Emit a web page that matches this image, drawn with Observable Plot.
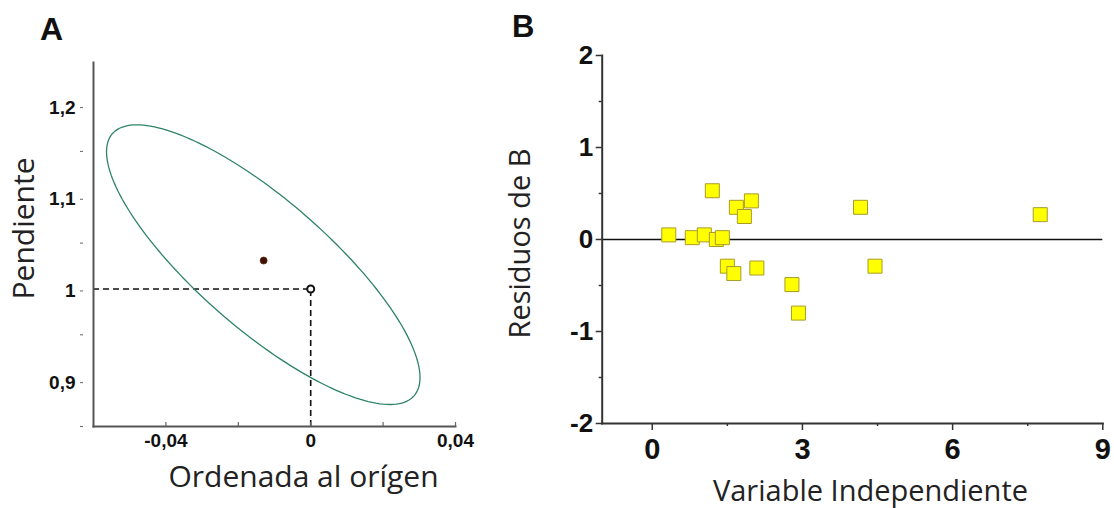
<!DOCTYPE html>
<html><head><meta charset="utf-8">
<script src="https://cdn.jsdelivr.net/npm/d3@7"></script>
<script src="https://cdn.jsdelivr.net/npm/@observablehq/plot@0.6"></script>
<style>
html,body{margin:0;padding:0;background:#fff}
body{width:1114px;height:508px;overflow:hidden;position:relative;font-family:"Liberation Sans",Arial,sans-serif}
.panel{position:absolute;top:0}
.tag{position:absolute;font-weight:bold;font-family:"Liberation Sans",Arial,sans-serif;line-height:1;color:#111;z-index:2}
</style></head><body>
<div id="panelA" class="panel" style="left:0"></div>
<div id="panelB" class="panel" style="left:490px"></div>
<div class="tag" style="left:40px;top:13px;font-size:32px">A</div>
<div class="tag" style="left:512px;top:11px;font-size:31px">B</div>
<script>
// ---------- Panel A data ----------
const aXLabel = "Ordenada al orígen";
const aYLabel = "Pendiente";
const aXDomain = [-0.06, 0.04];
const aYDomain = [0.85, 1.247];
const aXTicks = [-0.04, 0, 0.04];
const aXMinorTicks = [-0.02, 0.02];
const aYTicks = [0.9, 1.0, 1.1, 1.2];
const aYMinorTicks = [0.85, 0.95, 1.05, 1.15];
// confidence ellipse: centre, half-extents and correlation
const ellipseCenter = [-0.0131, 1.0265];
const ellipseHalfWidth = 0.0433;   // intercept half-range
const ellipseHalfHeight = 0.1525;  // slope half-range
const ellipseCorrelation = -0.807;
const estimatePoint = [[-0.013, 1.031]];   // fitted (intercept, slope)
const referencePoint = [[0, 1]];           // ideal (intercept, slope)

// ---------- Panel B data ----------
const bXLabel = "Variable Independiente";
const bYLabel = "Residuos de B";
const bXDomain = [-1, 9];
const bYDomain = [-2, 2];
const bXTicks = [0, 3, 6, 9];
const bXMinorTicks = [1.5, 4.5, 7.5];
const bYTicks = [-2, -1, 0, 1, 2];
const bYMinorTicks = [-1.5, -0.5, 0.5, 1.5];
const residX = [0.33, 0.80, 1.04, 1.28, 1.40, 1.20, 1.68, 1.98, 1.84, 1.50, 1.63, 2.09, 2.79, 2.92, 4.16, 4.45, 7.75];
const residY = [0.05, 0.02, 0.05, 0.00, 0.02, 0.53, 0.35, 0.42, 0.25, -0.29, -0.37, -0.31, -0.49, -0.80, 0.35, -0.29, 0.27];

const comma = d => String(d).replace(".", ",");

// ellipse outline from its parameters
const phi = Math.acos(ellipseCorrelation);
const ellipse = d3.range(0, 361, 2).map(deg => {
  const t = deg * Math.PI / 180;
  return {x: ellipseCenter[0] + ellipseHalfWidth * Math.cos(t),
          y: ellipseCenter[1] + ellipseHalfHeight * Math.cos(t - phi)};
});

const tickFont = {fontFamily: "Liberation Sans, Arial, sans-serif", fontWeight: "bold"};

const plotA = Plot.plot({
  width: 480, height: 508,
  marginLeft: 93, marginRight: 25, marginTop: 62, marginBottom: 82,
  style: {fontFamily: "Liberation Sans, Arial, sans-serif", color: "#111", background: "#fff"},
  x: {domain: aXDomain, label: null},
  y: {domain: aYDomain, label: null},
  marks: [
    Plot.ruleY(referencePoint, {y: d => d[1], x1: aXDomain[0], x2: d => d[0], stroke: "#111", strokeWidth: 1.6, strokeDasharray: "6,4"}),
    Plot.ruleX(referencePoint, {x: d => d[0], y1: aYDomain[0], y2: d => d[1], stroke: "#111", strokeWidth: 1.6, strokeDasharray: "6,4"}),
    Plot.line(ellipse, {x: "x", y: "y", stroke: "#2e8466", strokeWidth: 1.3}),
    Plot.dot(estimatePoint, {x: d => d[0], y: d => d[1], r: 3.5, fill: "#3a1206", stroke: "#6a2a10", strokeWidth: 0.8}),
    Plot.dot(referencePoint, {x: d => d[0], y: d => d[1], r: 3.5, fill: "#fff", stroke: "#111", strokeWidth: 2}),
    Plot.frame({anchor: "left", stroke: "#555", strokeWidth: 2}),
    Plot.frame({anchor: "bottom", stroke: "#555", strokeWidth: 2}),
    Plot.axisY(aYTicks, {anchor: "left", label: null, dx: -10, tickSize: 3, tickPadding: 5, tickFormat: comma, fontSize: 19, dy: 2, stroke: "#666", ...tickFont}),
    Plot.axisY(aYMinorTicks, {anchor: "left", label: null, dx: -10, tickSize: 3, tickFormat: () => "", stroke: "#666"}),
    Plot.axisX(aXTicks, {anchor: "bottom", label: null, tickSize: 0, tickPadding: 7, tickFormat: comma, fontSize: 19, ...tickFont}),
    Plot.ruleX(aXTicks.concat(aXMinorTicks), {x: d => d, insetTop: 360, stroke: "#666", strokeWidth: 1.2}),
    Plot.text([aXLabel], {frameAnchor: "bottom", textAnchor: "middle", dx: 29, dy: 51, fontSize: 30, fontFamily: "Open Sans", fill: "#222", lineAnchor: "middle"}),
    Plot.text([aYLabel], {frameAnchor: "left", textAnchor: "middle", dx: -69, dy: -16, rotate: -90, fontSize: 30, fontFamily: "Open Sans", fill: "#222", lineAnchor: "middle"})
  ]
});
document.getElementById("panelA").append(plotA);

const bData = residX.map((x, i) => ({x, y: residY[i]}));
const plotB = Plot.plot({
  width: 624, height: 508,
  marginLeft: 111.7, marginRight: 11.7, marginTop: 55, marginBottom: 85,
  style: {fontFamily: "Liberation Sans, Arial, sans-serif", color: "#111", background: "transparent"},
  x: {domain: bXDomain, label: null},
  y: {domain: bYDomain, label: null},
  marks: [
    Plot.ruleY([0], {stroke: "#111", strokeWidth: 1.6}),
    Plot.dot(bData, {x: "x", y: "y", symbol: "square", r: 7.9, fill: "#ffff00", stroke: "#a89c28", strokeWidth: 1}),
    Plot.frame({anchor: "left", stroke: "#333", strokeWidth: 2}),
    Plot.frame({anchor: "bottom", stroke: "#333", strokeWidth: 2}),
    Plot.axisY(bYTicks, {anchor: "left", label: null, tickSize: 6, tickPadding: 3, tickFormat: d => String(d), fontSize: 26, stroke: "#333", strokeWidth: 1.5, ...tickFont}),
    Plot.axisY(bYMinorTicks, {anchor: "left", label: null, tickSize: 3, tickFormat: () => "", stroke: "#333", strokeWidth: 1.5}),
    Plot.axisX(bXTicks, {anchor: "bottom", label: null, tickSize: 7, tickPadding: 8, tickFormat: d => String(d), fontSize: 29, stroke: "#333", strokeWidth: 1.5, ...tickFont}),
    Plot.axisX(bXMinorTicks, {anchor: "bottom", label: null, tickSize: 3, tickFormat: () => "", stroke: "#333", strokeWidth: 1.5}),
    Plot.text([bXLabel], {frameAnchor: "bottom", textAnchor: "middle", dx: 18, dy: 68, fontSize: 29, fontFamily: "Open Sans", fill: "#222", lineAnchor: "middle"}),
    Plot.text([bYLabel], {frameAnchor: "left", textAnchor: "middle", dx: -81, dy: 4, rotate: -90, fontSize: 29, fontFamily: "Open Sans", fill: "#222", lineAnchor: "middle"})
  ]
});
document.getElementById("panelB").append(plotB);
</script>
</body></html>
